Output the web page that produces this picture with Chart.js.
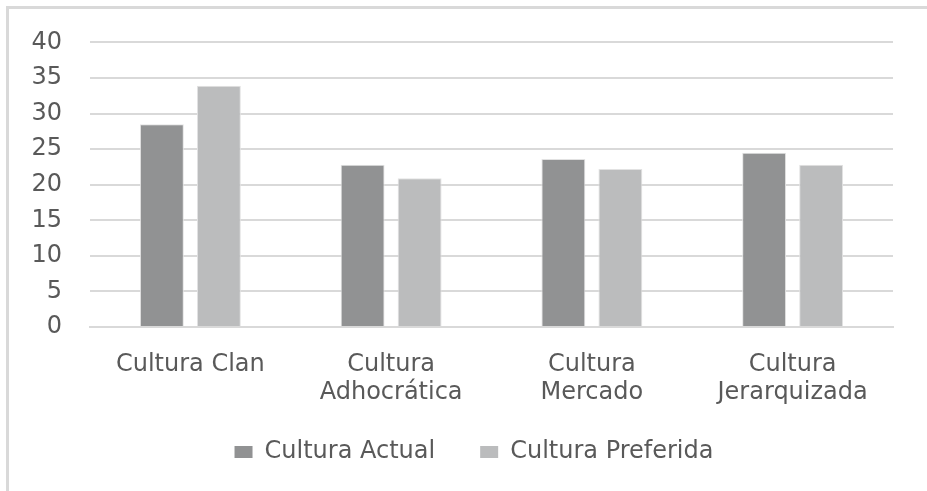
<!DOCTYPE html>
<html><head><meta charset="utf-8">
<script src="https://cdn.jsdelivr.net/npm/chart.js@4/dist/chart.umd.min.js"></script>
<style>
html,body{margin:0;padding:0;background:#fff;}
#wrap{position:absolute;left:0;top:0;width:927px;height:491px;}
#frame{position:absolute;left:6px;top:6px;width:921px;height:485px;border-left:3px solid #d9d9d9;border-top:3px solid #d9d9d9;box-sizing:border-box;}
canvas{position:absolute;left:0;top:0;}
</style></head>
<body>
<div id="wrap"><div id="frame"></div><canvas id="c" width="927" height="491"></canvas></div>
<script>
const categories = [["Cultura Clan"], ["Cultura","Adhocrática"], ["Cultura","Mercado"], ["Cultura","Jerarquizada"]];
const seriesNames = ["Cultura Actual", "Cultura Preferida"];
const actual = [28.5, 22.8, 23.6, 24.5];
const preferida = [33.9, 20.9, 22.2, 22.8];
const yTicks = [0, 5, 10, 15, 20, 25, 30, 35, 40];

const FONT = "'DejaVu Sans', sans-serif";
const TXT = "#595959";
const GRID = "#d9d9d9";
const LEGEND_H = 96;

const layoutFix = {
  id: 'layoutFix',
  afterInit(chart) {
    const lg = chart.legend;
    if (!lg) return;
    const orig = lg.fit.bind(lg);
    lg.fit = function () { orig(); this.height = LEGEND_H; };
  },
  afterLayout(chart) {
    Object.values(chart.scales).forEach(s => { s._computeLabelArea = () => undefined; });
  }
};

new Chart(document.getElementById('c'), {
  type: 'bar',
  data: {
    labels: categories,
    datasets: [
      {label: seriesNames[0], data: actual, backgroundColor: '#919293', borderColor: '#e2e2e2', borderWidth: 1,
       categoryPercentage: 0.568, barPercentage: 0.77},
      {label: seriesNames[1], data: preferida, backgroundColor: '#bbbcbd', borderColor: '#e2e2e2', borderWidth: 1,
       categoryPercentage: 0.568, barPercentage: 0.77}
    ]
  },
  plugins: [layoutFix],
  options: {
    responsive: false,
    animation: false,
    devicePixelRatio: 1,
    layout: {padding: {left: 55, right: 34, top: 26, bottom: 0}},
    plugins: {
      tooltip: {enabled: false},
      legend: {
        position: 'bottom',
        labels: {
          font: {family: FONT, size: 24}, color: TXT,
          boxWidth: 18, boxHeight: 12, padding: 45,
          generateLabels: (chart) => Chart.defaults.plugins.legend.labels.generateLabels(chart)
            .map(l => Object.assign(l, {lineWidth: 0, strokeStyle: l.fillStyle}))
        }
      }
    },
    scales: {
      x: {
        afterFit: (s) => { s.height = 68; },
        grid: {display: false, drawTicks: false},
        border: {display: true, color: GRID, width: 2},
        ticks: {font: {family: FONT, size: 24, lineHeight: 1.1667}, color: TXT, maxRotation: 0, autoSkip: false, padding: 24}
      },
      y: {
        min: 0, max: 40,
        afterBuildTicks: (s) => { s.ticks = yTicks.map(v => ({value: v})); },
        afterFit: (s) => { s.width = 35; },
        grid: {color: GRID, lineWidth: 2, drawTicks: false},
        border: {display: false},
        ticks: {font: {family: FONT, size: 24}, color: TXT, padding: 28}
      }
    }
  }
});
</script>
</body></html>
